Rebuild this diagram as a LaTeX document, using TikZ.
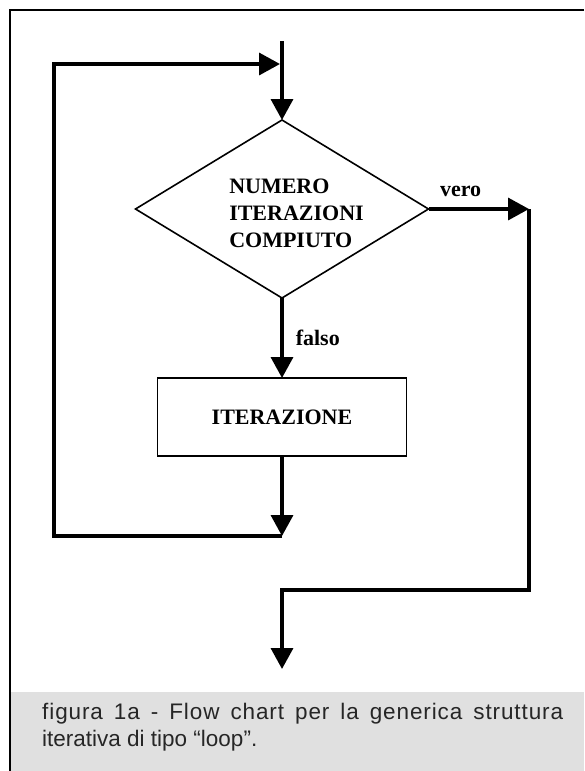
\documentclass[tikz,border=0pt]{standalone}
\usepackage{fontspec}
\setmainfont{Liberation Serif}
\newfontfamily\capfont{Liberation Sans}
\newfontfamily\capfontwide[LetterSpace=4]{Liberation Sans}
\usetikzlibrary{shapes.geometric,arrows.meta}
\definecolor{bandgray}{gray}{0.88}
\begin{document}
\begin{tikzpicture}[x=1pt,y=-1pt,
  flow/.style={line width=3.5pt, -{Triangle[length=21pt,width=22pt]}},
  decision/.style={diamond, draw, line width=1.6pt, minimum width=293pt, minimum height=178pt, aspect=1.646, inner sep=0pt, outer sep=0pt},
  process/.style={rectangle, draw, line width=1.2pt, minimum width=249pt, minimum height=78pt, inner sep=0pt, outer sep=0pt, font=\fontsize{22}{27}\selectfont\bfseries},
  dtext/.style={align=left, inner sep=0pt, font=\fontsize{22}{27}\selectfont\bfseries},
  lbl/.style={inner sep=0pt, font=\fontsize{22}{26}\selectfont\bfseries},
  captext/.style={inner sep=0pt, text=black!85, font=\capfont\fontsize{22.5}{27}\selectfont}]
\useasboundingbox (0,0) rectangle (584,771);
% caption band and frame
\fill[bandgray] (9,692) rectangle (584,771);
\draw[line width=2pt] (584,10) -- (9.5,10) -- (9.5,771);
% nodes
\node[decision, label={[dtext,xshift=14.5pt,yshift=-4pt]center:{NUMERO\\ITERAZIONI\\COMPIUTO}}] (d) at (282,209) {};
\node[process] (b) at (282,417) {ITERAZIONE};
\coordinate (start) at (282,41);
\coordinate (jt) at (280,64);
\coordinate (lt) at (54,64);
\coordinate (lb) at (54,536);
\coordinate (jb) at (282,536);
\coordinate (rt) at (529,209);
\coordinate (rb) at (529,590);
\coordinate (bt) at (282,590);
\coordinate (stop) at (282,669);
% connectors
\draw[flow] (start) -- (d.north);
\draw[flow] (jb) -- (lb) -- (lt) -- (jt);
\draw[flow] (d.south) -- node[lbl, anchor=west, xshift=12pt]{falso} (b.north);
\draw[flow] (b.south) -- (jb);
\draw[flow] (d.east) -- node[lbl, pos=0.32, anchor=south, yshift=11pt]{vero} (rt);
\draw[flow] (rt) -- (rb) -- (bt) -- (stop);
% caption
\node[captext, anchor=base west] (cap) at (42,719) {\begin{tabular}[t]{@{}l@{}}\makebox[521pt][s]{\capfontwide figura 1a - Flow chart per la generica struttura}\\iterativa di tipo “loop”.\end{tabular}};
\end{tikzpicture}
\end{document}
